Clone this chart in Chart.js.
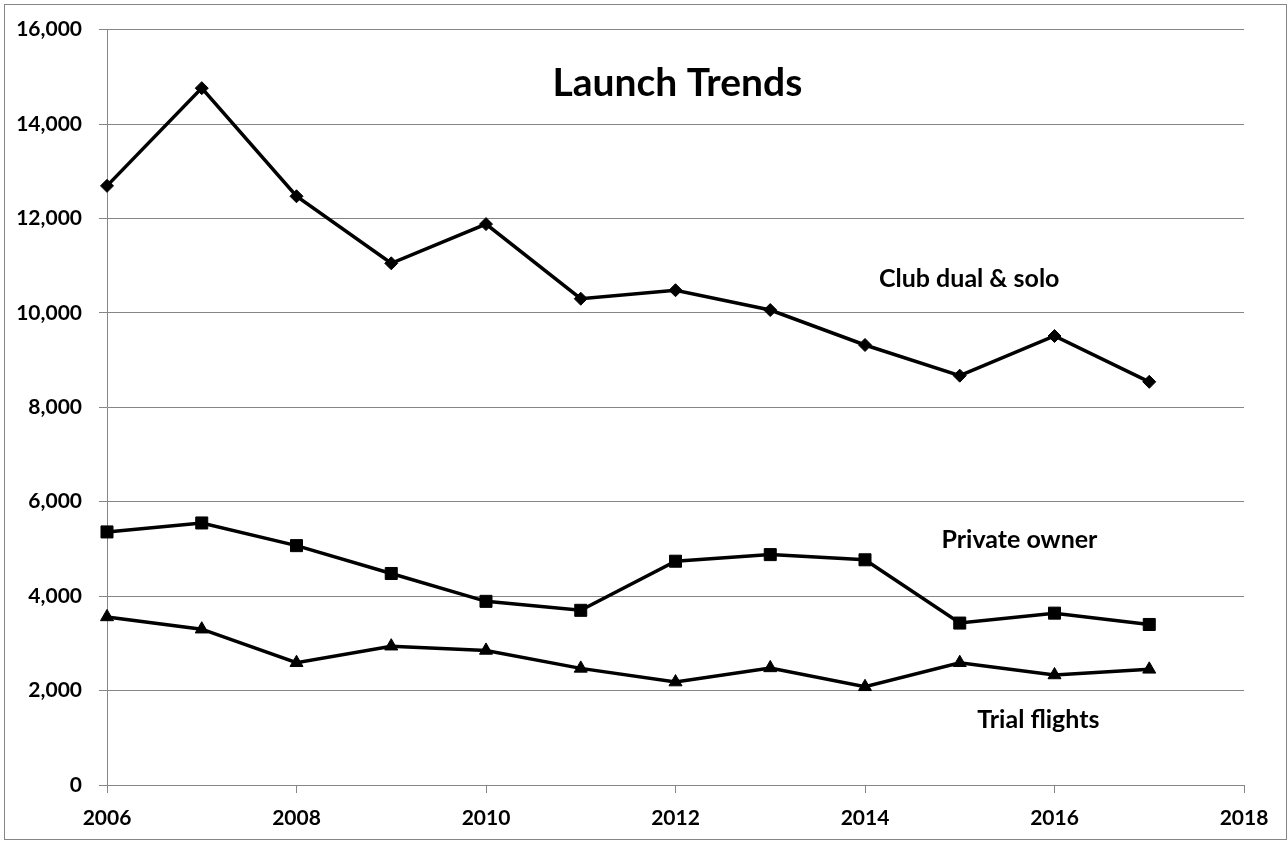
<!DOCTYPE html>
<html>
<head>
<meta charset="utf-8">
<script src="https://cdn.jsdelivr.net/npm/chart.js@4"></script>
<style>
  html, body { margin: 0; padding: 0; background: #fff; }
</style>
</head>
<body>
<canvas id="chart1" width="1288" height="841"></canvas>
<script>
// Launch Trends data
const years = [2006, 2007, 2008, 2009, 2010, 2011, 2012, 2013, 2014, 2015, 2016, 2017];
const clubDualSolo = [12690, 14760, 12470, 11050, 11880, 10300, 10480, 10060, 9320, 8670, 9510, 8540];
const privateOwner = [5360, 5550, 5070, 4480, 3890, 3700, 4740, 4880, 4770, 3430, 3640, 3400];
const trialFlights = [3560, 3300, 2590, 2940, 2850, 2470, 2180, 2480, 2080, 2590, 2330, 2450];

const gridGrey = '#868686';
const fontFamily = 'Lato, "Open Sans", sans-serif';

// text drawn inside the plot, placed in data coordinates
const plotLabels = [
    { text: 'Launch Trends', x: 2012.02, y: 14850, size: 39 },
    { text: 'Club dual & solo', x: 2015.1, y: 10720, size: 25 },
    { text: 'Private owner', x: 2015.63, y: 5200, size: 25 },
    { text: 'Trial flights', x: 2015.83, y: 1370, size: 25 }
];

function toPoints(values) {
    return years.map((yr, i) => ({ x: yr, y: values[i] }));
}

const labelPlugin = {
    id: 'plotLabels',
    beforeDraw(chart) {
        const ctx = chart.ctx;
        ctx.save();
        ctx.fillStyle = '#fff';
        ctx.fillRect(0, 0, chart.width, chart.height);
        ctx.strokeStyle = gridGrey;
        ctx.lineWidth = 1;
        ctx.strokeRect(4.5, 4.5, chart.width - 6, chart.height - 6);
        ctx.restore();
    },
    afterDatasetsDraw(chart) {
        const ctx = chart.ctx;
        const xs = chart.scales.x, ys = chart.scales.y;
        ctx.save();
        ctx.fillStyle = '#000';
        ctx.textAlign = 'center';
        ctx.textBaseline = 'middle';
        plotLabels.forEach(l => {
            ctx.font = 'bold ' + l.size + 'px ' + fontFamily;
            ctx.fillText(l.text, xs.getPixelForValue(l.x), ys.getPixelForValue(l.y));
        });
        ctx.restore();
    }
};

function seriesStyle(style, radius) {
    return {
        borderColor: '#000',
        backgroundColor: '#000',
        borderWidth: 3.5,
        pointStyle: style,
        pointRadius: radius,
        pointBorderWidth: 1,
        pointBackgroundColor: '#000',
        pointBorderColor: '#000',
        tension: 0,
        clip: false
    };
}

const ctx1 = document.getElementById('chart1').getContext('2d');
const launchChart = new Chart(ctx1, {
    type: 'line',
    data: {
        datasets: [
            Object.assign({ label: 'Club dual & solo', data: toPoints(clubDualSolo) }, seriesStyle('rectRot', 6.5)),
            Object.assign({ label: 'Private owner', data: toPoints(privateOwner) }, seriesStyle('rect', 8.5)),
            Object.assign({ label: 'Trial flights', data: toPoints(trialFlights) }, seriesStyle('triangle', 7.5))
        ]
    },
    options: {
        responsive: false,
        animation: false,
        layout: { padding: { top: 28, right: 44, left: 0, bottom: 0 } },
        plugins: {
            legend: { display: false },
            tooltip: { enabled: false }
        },
        scales: {
            x: {
                type: 'linear',
                min: 2006,
                max: 2018,
                afterFit: s => { s.height = 56; },
                ticks: {
                    stepSize: 2,
                    padding: 13,
                    color: '#000',
                    font: { family: fontFamily, size: 21, weight: 'bold' },
                    callback: v => String(v),
                    maxRotation: 0
                },
                grid: { drawOnChartArea: false, color: gridGrey, tickLength: 8 },
                border: { color: gridGrey }
            },
            y: {
                min: 0,
                max: 16000,
                afterFit: s => { s.width = 107; },
                ticks: {
                    stepSize: 2000,
                    padding: 17,
                    color: '#000',
                    font: { family: fontFamily, size: 21, weight: 'bold' },
                    callback: v => v.toLocaleString('en-US')
                },
                grid: { color: gridGrey, tickLength: 8 },
                border: { color: gridGrey }
            }
        }
    },
    plugins: [labelPlugin]
});
</script>
</body>
</html>
